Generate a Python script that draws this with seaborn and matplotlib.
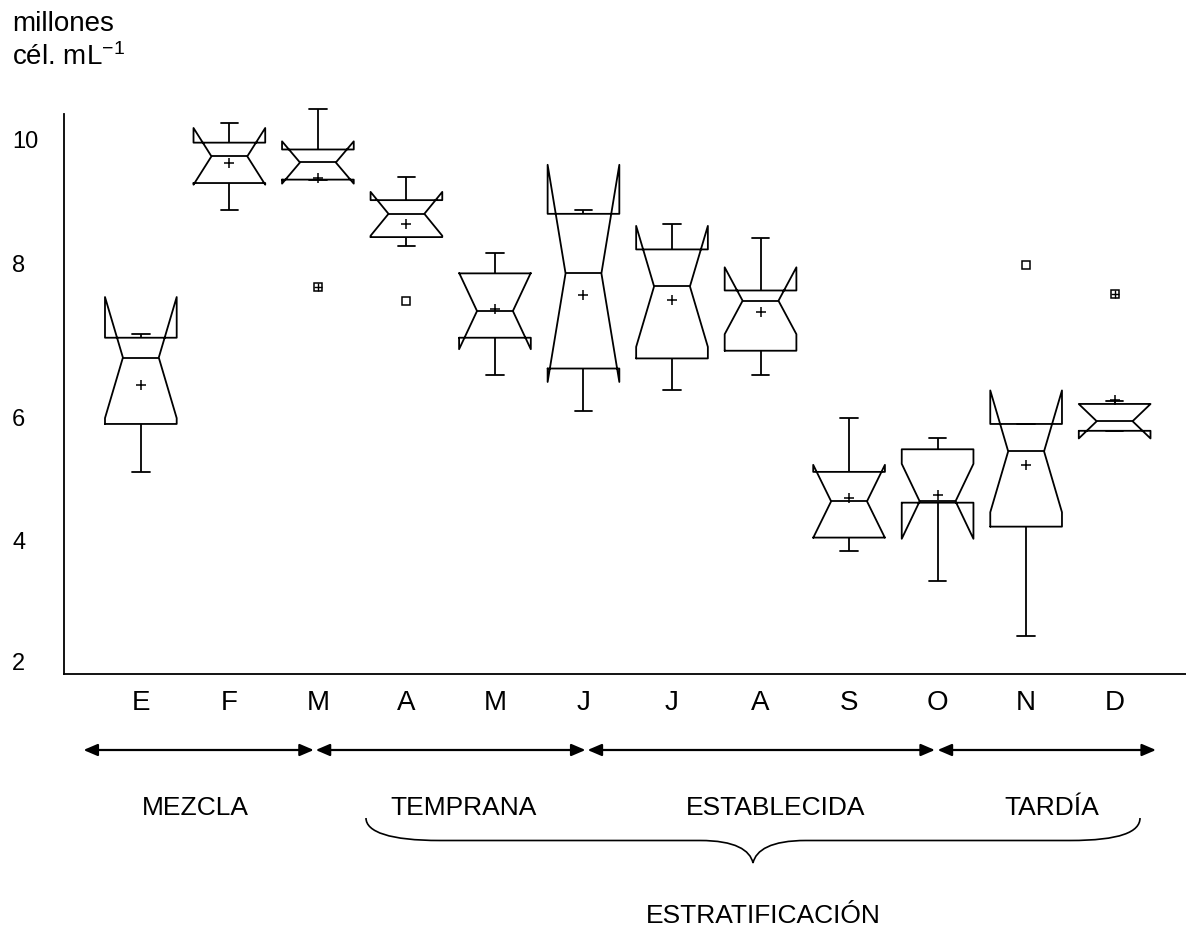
import matplotlib
matplotlib.use("Agg")
import matplotlib.pyplot as plt
import matplotlib.transforms as mtransforms
from matplotlib.path import Path
from matplotlib.patches import PathPatch
import numpy as np
import pandas as pd
import seaborn as sns

# Abundancia mensual (millones de células por mL), una muestra por valor
meses = ["Ene", "Feb", "Mar", "Abr", "May", "Jun", "Jul", "Ago", "Sep", "Oct", "Nov", "Dic"]
iniciales = ["E", "F", "M", "A", "M", "J", "J", "A", "S", "O", "N", "D"]

ene = [4.70, 5.40, 6.37, 6.66, 6.71]
feb = [8.52, 8.92, 9.31, 9.51, 9.80]
mar = [7.40, 8.97, 9.22, 9.41, 10.00]
abr = [7.20, 8.00, 8.26, 8.47, 8.60, 8.74, 9.01]
may = [6.12, 6.55, 6.77, 7.05, 7.45, 7.75, 7.90]
jun = [5.59, 6.21, 7.60, 8.47, 8.52]
jul = [5.90, 6.20, 6.41, 7.30, 7.52, 7.90, 8.10, 8.32]
ago = [6.12, 6.35, 6.51, 7.15, 7.25, 7.30, 7.50, 8.12]
sep = [3.54, 3.65, 3.77, 4.20, 4.34, 4.62, 4.94, 5.49]
oct_ = [3.10, 4.25, 4.27, 5.03, 5.19]
nov = [2.30, 3.80, 4.00, 5.00, 5.40, 5.40, 7.72]
dic = [5.30, 5.30, 5.30, 5.58, 5.73, 7.30]
series = [ene, feb, mar, abr, may, jun, jul, ago, sep, oct_, nov, dic]

# Valores extremos que llevan una cruz dentro del cuadro
extremos_mes = ["Mar", "Dic"]
extremos_val = [7.40, 7.30]

# Escala vertical
yticks = [2, 4, 6, 8]
ytick_text = ["2", "4", "6", "8", "10"]

# Fases de la columna de agua
fases = ["MEZCLA", "TEMPRANA", "ESTABLECIDA", "TARDÍA"]

sns.set_style("white")
plt.rcParams["font.family"] = ["Liberation Sans", "DejaVu Sans"]
plt.rcParams["mathtext.fontset"] = "custom"
plt.rcParams["mathtext.rm"] = "Liberation Sans"
plt.rcParams["mathtext.it"] = "Liberation Sans:italic"
for key in ["text.color", "axes.labelcolor", "xtick.color", "ytick.color"]:
    plt.rcParams[key] = "black"

W, H = 1186, 930
fig = plt.figure(figsize=(W / 100, H / 100), dpi=100)
ax = fig.add_axes([64 / W, 1 - 674 / H, 1 - 64 / W, (674 - 100) / H])

df = pd.DataFrame({
    "mes": np.repeat(meses, [len(s) for s in series]),
    "cel": np.concatenate(series),
})

sns.boxplot(
    data=df, x="mes", y="cel", order=meses, ax=ax,
    notch=True, showmeans=True, fill=False,
    color="black", linecolor="black", linewidth=1.3,
    width=0.81, whis=1.5, capwidths=0.2,
    meanprops=dict(marker="+", markeredgecolor="black", markersize=7,
                   markeredgewidth=1.1),
    flierprops=dict(marker="s", markersize=5.2, markeredgewidth=1.1,
                    markeredgecolor="black", markerfacecolor="none"),
)

# cruz dentro de los extremos marcados
ax.plot([meses.index(m) for m in extremos_mes], extremos_val, ls="none",
        marker="+", color="black", ms=5.2, mew=1.0)

ax.set_xlim(-0.868, 11.806)
ax.set_ylim(1.747, 10.133)
ax.set_xlabel("")
ax.set_ylabel("")
sns.despine(ax=ax)
for side in ["left", "bottom"]:
    ax.spines[side].set_color("black")
    ax.spines[side].set_linewidth(1.3)
ax.spines["left"].set_bounds(1.747, 9.93)

ax.set_xticks(range(len(meses)), iniciales)
ax.tick_params(axis="x", length=0, pad=11.5, labelsize=20, colors="black")

# marcas de la escala hacia dentro; los números impresos quedan un poco por debajo
ax.set_yticks(yticks, [""] * len(yticks))
ax.tick_params(axis="y", which="major", direction="in", length=15,
               width=1.3, color="black")
ax.set_yticks([1.93, 3.70, 5.50, 7.74, 9.55], ytick_text, minor=True)
ax.tick_params(axis="y", which="minor", length=0, pad=37.4, labelsize=17,
               labelcolor="black")
for t in ax.get_yticklabels(minor=True):
    t.set_horizontalalignment("left")

# unidades
fig.text(12 / W, 1 - 31 / H, "millones", fontsize=20, ha="left", va="baseline")
fig.text(12 / W, 1 - 65 / H, "cél. mL$^{-1}$", fontsize=20, ha="left",
         va="baseline")

# flechas de fases (x en posiciones de mes, y en fracción de figura)
trans = mtransforms.blended_transform_factory(ax.transData, fig.transFigure)
y_flecha = 1 - 750 / H
tramos = [(-0.648, 1.954), (1.975, 5.023), (5.046, 8.970), (9.0, 11.467)]
for x0, x1 in tramos:
    ax.annotate("", xy=(x1, y_flecha), xytext=(x0, y_flecha),
                xycoords=trans, textcoords=trans, annotation_clip=False,
                arrowprops=dict(arrowstyle="<|-|>,head_length=0.7,head_width=0.3",
                                color="black", lw=1.6, shrinkA=0, shrinkB=0,
                                mutation_scale=12))

y_fase = 1 - 815 / H
for nombre, xc in zip(fases, [0.612, 3.650, 7.175, 10.293]):
    ax.text(xc, y_fase, nombre, transform=trans, ha="center", va="baseline",
            fontsize=19)

ax.text(7.028, 1 - 923 / H, "ESTRATIFICACIÓN", transform=trans, ha="center",
        va="baseline", fontsize=19)

# llave bajo las fases de estratificación (coordenadas en píxeles)
px = mtransforms.Affine2D().scale(1 / W, -1 / H).translate(0, 1) + fig.transFigure
verts = [
    (366, 818),
    (366, 832), (390, 840.5), (440, 840.5),
    (700, 840.5),
    (735, 840.5), (750, 850), (753, 863),
    (756, 850), (771, 840.5), (806, 840.5),
    (1070, 840.5),
    (1120, 840.5), (1140, 832), (1140, 818),
]
codes = ([Path.MOVETO] + [Path.CURVE4] * 3 + [Path.LINETO] + [Path.CURVE4] * 6
         + [Path.LINETO] + [Path.CURVE4] * 3)
fig.patches.append(PathPatch(Path(verts, codes), transform=px, fill=False,
                             lw=1.2, edgecolor="black"))

fig.savefig("out.png", dpi=100, facecolor="white")
